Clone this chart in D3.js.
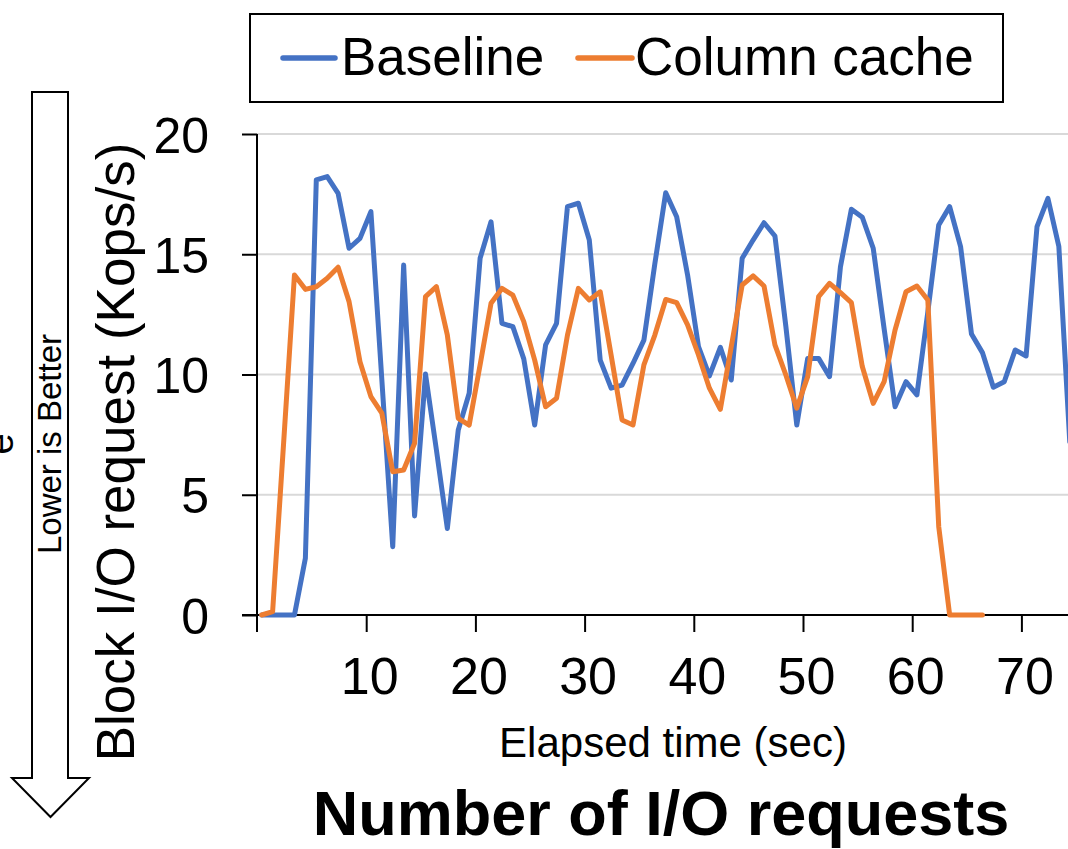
<!DOCTYPE html>
<html><head><meta charset="utf-8">
<script src="https://cdn.jsdelivr.net/npm/d3@7"></script>
<style>html,body{margin:0;padding:0;background:#fff;overflow:hidden}</style>
</head><body><svg id="chart" width="1068" height="849"></svg>
<script>
// ---- data ----
const seriesNames = ["Baseline", "Column cache"];
const seriesColors = ["#4472C4", "#ED7D31"];
const baseline = [0,0,0,0,2.36,18.09,18.23,17.53,15.25,15.66,
  16.77,9.8,2.84,14.55,4.12,10.02,6.86,3.6,7.69,9.22,
  14.83,16.35,12.13,11.99,10.65,7.9,11.23,12.13,16.98,17.12,
  15.59,10.6,9.43,9.56,10.46,11.43,14.6,17.56,16.56,14.14,
  11.16,9.94,11.13,9.77,14.83,15.59,16.31,15.76,12.0,7.9,
  10.67,10.67,9.91,14.48,16.87,16.54,15.25,11.9,8.66,9.7,
  9.15,12.6,16.22,16.98,15.32,11.68,10.91,9.47,9.7,11.02,
  10.77,16.15,17.32,15.32,7.2];
const columnCache = [0,0.14,7.1,14.14,13.54,13.65,14.0,14.46,13.03,10.53,
  9.08,8.39,5.96,6.03,7.14,13.24,13.65,11.64,8.18,7.9,
  10.4,12.96,13.58,13.3,12.2,10.6,8.66,9.01,11.64,13.58,
  13.1,13.44,10.8,8.11,7.9,10.4,11.64,13.12,12.99,12.06,
  10.81,9.43,8.55,11.16,13.72,14.1,13.68,11.23,9.98,8.6,
  9.91,13.24,13.79,13.4,12.99,10.33,8.8,9.7,11.85,13.44,
  13.68,13.1,3.67,0,0,0,0];
const firstSampleTime = 0.43;   // seconds
const sampleInterval = 1;       // seconds
const xTicks = [10,20,30,40,50,60,70];
const yTicks = [0,5,10,15,20];
const xTitle = "Elapsed time (sec)";
const yTitle = "Block I/O request (Kops/s)";
const bottomTitle = "Number of I/O requests";
const arrowText = "Lower is Better";

// ---- layout ----
const FONT = "'Liberation Sans', Arial, Helvetica, sans-serif";
const svg = d3.select("#chart");
svg.append("rect").attr("width",1068).attr("height",849).attr("fill","#fff");

const x = d3.scaleLinear().domain([0, 80]).range([257, 257 + 80*10.92]);
const y = d3.scaleLinear().domain([0, 20]).range([615, 134]);

// gridlines
svg.append("g").selectAll("line").data(yTicks.filter(d => d > 0)).join("line")
  .attr("x1", x(0)).attr("x2", 1068)
  .attr("y1", d => y(d)).attr("y2", d => y(d))
  .attr("stroke", "#d9d9d9").attr("stroke-width", 2);

// y axis
const yAxis = d3.axisLeft(y).tickValues(yTicks).tickSize(15).tickPadding(33).tickFormat(d3.format("d"));
const gy = svg.append("g").attr("transform", `translate(${x(0)},0)`).call(yAxis);
gy.select(".domain").remove();
gy.selectAll(".tick line").attr("stroke", "#000").attr("stroke-width", 2);
gy.selectAll(".tick text").attr("font-family", FONT).attr("font-size", 50).attr("fill", "#000").attr("dy", "0.36em");
svg.append("line").attr("x1", x(0)).attr("x2", x(0)).attr("y1", y(20)).attr("y2", y(0) + 17)
  .attr("stroke", "#000").attr("stroke-width", 2);

// x axis
const xAxis = d3.axisBottom(x).tickValues(xTicks).tickSize(17).tickPadding(25).tickFormat(d3.format("d"));
const gx = svg.append("g").attr("transform", `translate(0,${y(0)})`).call(xAxis);
gx.select(".domain").remove();
gx.selectAll(".tick line").attr("stroke", "#000").attr("stroke-width", 2);
gx.selectAll(".tick text").attr("font-family", FONT).attr("font-size", 52).attr("fill", "#000").attr("dy", "0.71em")
  .attr("dx", 3);
svg.append("line").attr("x1", x(0) - 15).attr("x2", 1068).attr("y1", y(0)).attr("y2", y(0))
  .attr("stroke", "#000").attr("stroke-width", 2);

// series lines
const line = d3.line()
  .x((d, i) => x(firstSampleTime + i * sampleInterval))
  .y(d => y(d));
[baseline, columnCache].forEach((vals, k) => {
  svg.append("path").datum(vals)
    .attr("d", line)
    .attr("fill", "none")
    .attr("stroke", seriesColors[k])
    .attr("stroke-width", 5)
    .attr("stroke-linejoin", "round")
    .attr("stroke-linecap", "round");
});

// legend
svg.append("rect").attr("x", 250).attr("y", 14).attr("width", 753).attr("height", 88)
  .attr("fill", "#fff").attr("stroke", "#000").attr("stroke-width", 2);
const legendItems = [
  {lx1: 283, lx2: 335, tx: 341},
  {lx1: 578, lx2: 632, tx: 635}
];
legendItems.forEach((it, k) => {
  svg.append("line").attr("x1", it.lx1).attr("x2", it.lx2).attr("y1", 58).attr("y2", 58)
    .attr("stroke", seriesColors[k]).attr("stroke-width", 5.5).attr("stroke-linecap", "round");
  svg.append("text").attr("x", it.tx).attr("y", 75)
    .attr("font-family", FONT).attr("font-size", 53).attr("fill", "#000")
    .text(seriesNames[k]);
});

// titles
svg.append("text").attr("x", 673).attr("y", 757).attr("text-anchor", "middle")
  .attr("font-family", FONT).attr("font-size", 42).attr("fill", "#000").text(xTitle);
svg.append("text").attr("transform", "translate(134,452) rotate(-90)").attr("text-anchor", "middle")
  .attr("font-family", FONT).attr("font-size", 53).attr("fill", "#000").text(yTitle);
svg.append("text").attr("x", 661).attr("y", 835).attr("text-anchor", "middle")
  .attr("font-family", FONT).attr("font-size", 63).attr("font-weight", "bold").attr("fill", "#000").text(bottomTitle);

// arrow
const ax0 = 32, ax1 = 68, shaftTop = 92, headY = 778, tipY = 817, hx0 = 12, hx1 = 89;
svg.append("path")
  .attr("d", `M${ax0},${shaftTop}L${ax1},${shaftTop}L${ax1},${headY}L${hx1},${headY}L${(hx0+hx1)/2},${tipY}L${hx0},${headY}L${ax0},${headY}Z`)
  .attr("fill", "#fff").attr("stroke", "#000").attr("stroke-width", 2);
svg.append("text").attr("transform", "translate(61,444) rotate(-90)").attr("text-anchor", "middle")
  .attr("font-family", FONT).attr("font-size", 33).attr("fill", "#000").text(arrowText);
// fragment of an outer label at the far left edge (partly outside the frame, as in the source)
svg.append("text").attr("transform", "translate(13,444) rotate(-90)").attr("text-anchor", "middle")
  .attr("font-family", FONT).attr("font-size", 38).attr("fill", "#000").text("e");
</script></body></html>
